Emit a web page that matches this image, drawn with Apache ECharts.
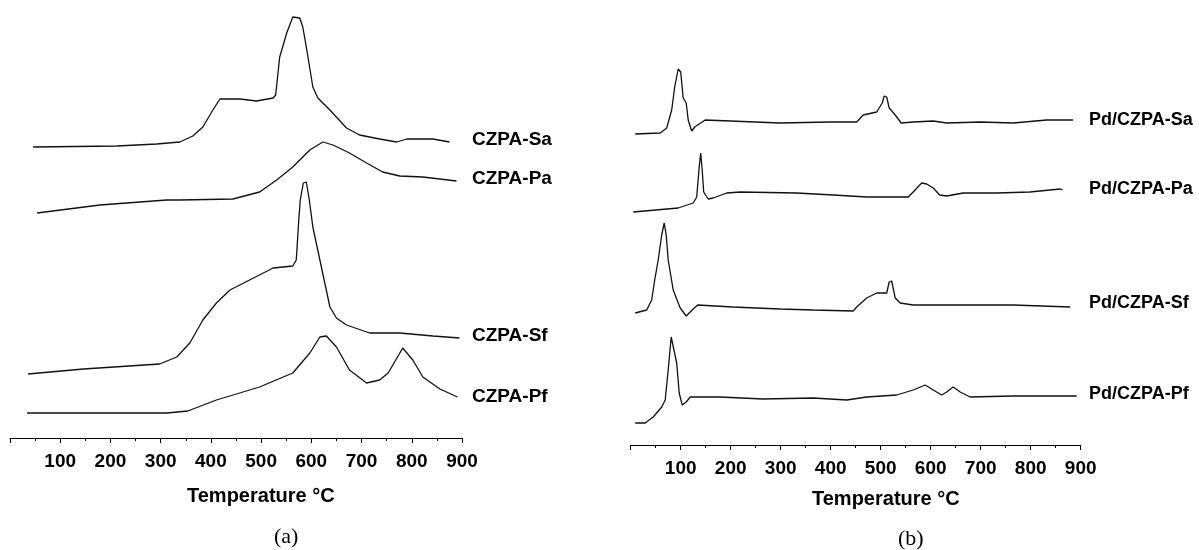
<!DOCTYPE html>
<html><head><meta charset="utf-8">
<script src="https://cdn.jsdelivr.net/npm/echarts@6/dist/echarts.min.js"></script>
<style>html,body{margin:0;padding:0;background:#fff}#c{width:1199px;height:550px}</style>
</head><body><div id="c"></div>
<script>
// Temperature (°C) vs TCD signal (a.u., offset per curve) — panel (a)
const czpaSa = [[46,291],[213,292],[292,294],[338,296],[364,302],[384,311],[404,328],[418,339],[458,339],[491,337],[524,340],[529,343],[537,381],[551,405],[563,421],[577,420],[583,411],[591,388],[603,351],[613,340],[637,328],[670,310],[696,303],[736,299],[770,296],[790,299],[842,299],[875,296]];
const czpaPa = [[54,225],[179,233],[312,238],[338,238],[444,239],[497,246],[531,258],[563,271],[597,288],[623,296],[643,293],[676,285],[710,275],[742,266],[776,262],[822,261],[889,257]];
const czpaSf = [[36,64],[146,69],[298,74],[332,81],[358,95],[384,118],[411,135],[438,148],[477,158],[524,170],[563,172],[570,178],[575,218],[578,238],[584,255],[590,256],[596,238],[603,211],[620,171],[637,131],[650,120],[670,113],[716,105],[776,105],[842,102],[895,100]];
const czpaPf = [[34,25],[312,25],[354,27],[411,38],[497,51],[563,65],[597,85],[617,101],[630,102],[650,91],[676,68],[710,55],[736,58],[753,65],[782,90],[802,78],[822,61],[856,49],[891,41]];
// panel (b)
const pdSa = [[9,311],[59,312],[72,317],[82,335],[88,358],[95,376],[100,373],[105,347],[111,342],[115,325],[122,314],[128,318],[149,325],[199,324],[299,322],[399,323],[452,323],[465,330],[492,333],[503,342],[507,349],[512,348],[517,337],[529,330],[541,322],[565,323],[605,324],[632,322],[699,323],[765,322],[832,325],[885,325]];
const pdPa = [[5,233],[95,237],[125,242],[132,248],[137,278],[140,292],[143,275],[146,253],[155,246],[165,247],[192,252],[219,253],[332,252],[405,250],[472,248],[555,248],[565,253],[582,262],[592,261],[605,257],[618,250],[632,249],[665,252],[732,252],[798,253],[859,256],[864,255]];
const pdSf = [[9,132],[32,135],[42,145],[48,165],[55,185],[62,210],[67,222],[71,210],[75,185],[85,155],[99,137],[111,129],[125,136],[134,140],[204,138],[299,136],[365,135],[445,134],[452,138],[472,147],[492,152],[512,152],[517,163],[522,164],[529,147],[539,142],[565,140],[632,140],[765,140],[879,138]];
const pdPf = [[9,22],[29,22],[45,28],[62,38],[69,45],[75,75],[81,108],[85,108],[92,82],[97,52],[103,40],[111,43],[119,48],[179,48],[265,46],[365,47],[432,45],[472,48],[532,50],[565,55],[589,60],[605,55],[622,50],[632,53],[645,58],[659,53],[679,48],[765,49],[892,49]];

const labelsA = ['CZPA-Sa','CZPA-Pa','CZPA-Sf','CZPA-Pf'];
const labelsB = ['Pd/CZPA-Sa','Pd/CZPA-Pa','Pd/CZPA-Sf','Pd/CZPA-Pf'];
const axisTitle = 'Temperature °C';
const captions = ['(a)','(b)'];

const FONT = '"Liberation Sans", Arial, sans-serif';
const SERIF = '"Liberation Serif", "Times New Roman", serif';
const chart = echarts.init(document.getElementById('c'), null, {renderer:'canvas'});

function xAx(gi){
  return {
    gridIndex: gi, type:'value', min:0, max:900, interval:100,
    axisLine:{show:true, lineStyle:{color:'#000', width:1}},
    axisTick:{show:true, inside:false, length:5, lineStyle:{color:'#000'}},
    minorTick:{show:true, splitNumber:2, length:3, lineStyle:{color:'#000'}},
    splitLine:{show:false},
    axisLabel:{show:true, margin:14, color:'#000', fontFamily:FONT, fontWeight:'bold', fontSize:19,
      formatter:v=> v===0 ? '' : String(v)}
  };
}
function yAx(gi){
  return {gridIndex:gi, type:'value', min:0, max:430, show:false,
    axisLine:{show:false}, axisTick:{show:false}, axisLabel:{show:false}, splitLine:{show:false}};
}
function line(name, data, idx){
  return {name, type:'line', xAxisIndex:idx, yAxisIndex:idx, data, showSymbol:false, symbol:'none',
    smooth:false, lineStyle:{color:'#111', width:1.3}, silent:true, animation:false};
}

const grapA = labelsA.map((t,i)=>({type:'text', left:472, top:[141,180,337,398][i]-11,
  style:{text:t, font:'bold 19px '+FONT, fill:'#000'}}));
const grapB = labelsB.map((t,i)=>({type:'text', left:1089, top:[122,191,305,396][i]-11,
  style:{text:t, font:'bold 18px '+FONT, fill:'#000'}}));

chart.setOption({
  animation:false,
  backgroundColor:'#fff',
  grid:[
    {left:10, width:452, top:8, height:430},
    {left:630.7, width:450, top:15, height:430}
  ],
  xAxis:[xAx(0), xAx(1)],
  yAxis:[yAx(0), yAx(1)],
  series:[
    line(labelsA[0], czpaSa, 0), line(labelsA[1], czpaPa, 0), line(labelsA[2], czpaSf, 0), line(labelsA[3], czpaPf, 0),
    line(labelsB[0], pdSa, 1), line(labelsB[1], pdPa, 1), line(labelsB[2], pdSf, 1), line(labelsB[3], pdPf, 1)
  ],
  graphic: grapA.concat(grapB).concat([
    {type:'text', top:486, left:187, style:{text:axisTitle, font:'bold 20px '+FONT, fill:'#000'}},
    {type:'text', top:489, left:812, style:{text:axisTitle, font:'bold 20px '+FONT, fill:'#000'}},
    {type:'text', top:526, left:274, style:{text:captions[0], font:'22px '+SERIF, fill:'#000'}},
    {type:'text', top:528, left:898, style:{text:captions[1], font:'22px '+SERIF, fill:'#000'}}
  ])
});
</script>
</body></html>
